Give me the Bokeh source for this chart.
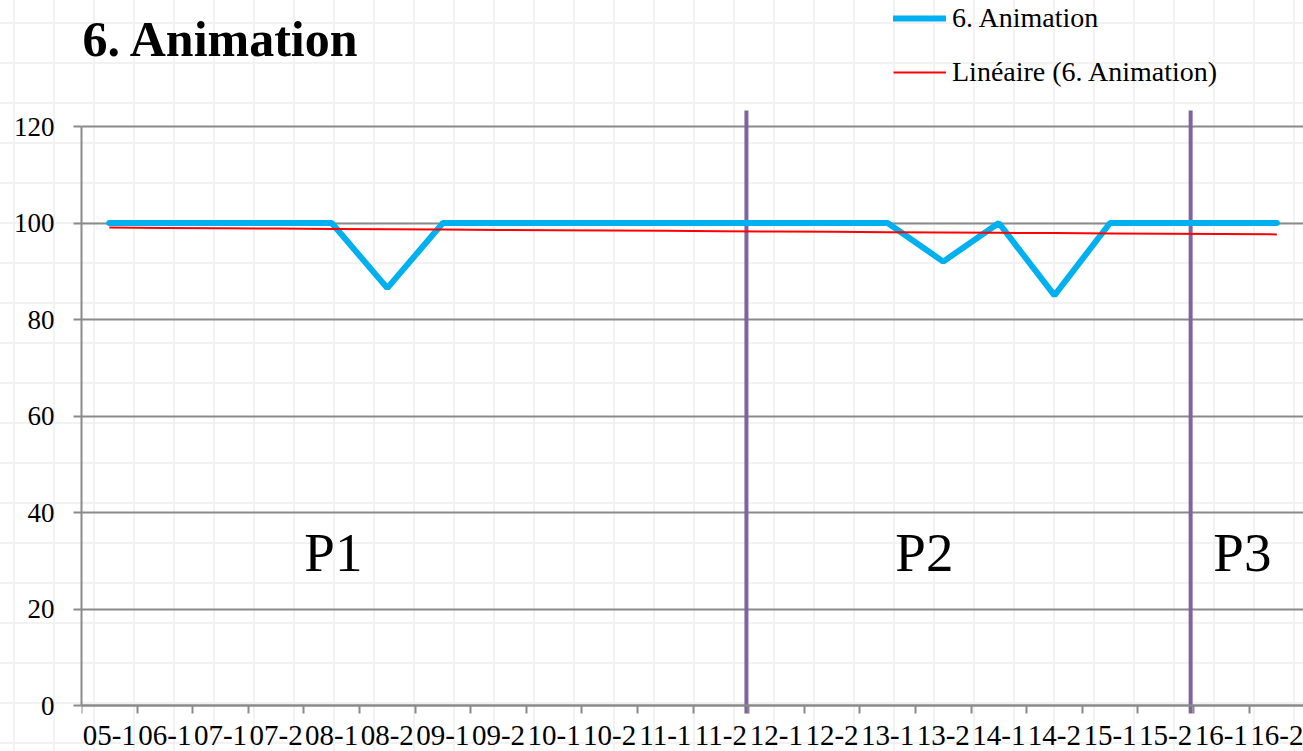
from bokeh.plotting import figure
from bokeh.models import (Range1d, FixedTicker, Legend, LegendItem, Label,
                          ColumnDataSource)
from bokeh.core.properties import value
from bokeh.embed import file_html
from bokeh.resources import INLINE
import numpy as np

# ---- data ----
categories = ["05-1", "06-1", "07-1", "07-2", "08-1", "08-2", "09-1", "09-2",
              "10-1", "10-2", "11-1", "11-2", "12-1", "12-2", "13-1", "13-2",
              "14-1", "14-2", "15-1", "15-2", "16-1", "16-2"]
animation = [100, 100, 100, 100, 100, 86.5, 100, 100, 100, 100, 100, 100,
             100, 100, 100, 92, 100, 85, 100, 100, 100, 100]
y_ticks = [0, 20, 40, 60, 80, 100, 120]
series_name = "6. Animation"
trend_name = "Linéaire (6. Animation)"
period_labels = ["P1", "P2", "P3"]
period_label_x = [4.03, 14.66, 20.38]
period_label_y = [31.8, 31.8, 31.8]
period_breaks = [11.46, 19.45]

FONT = "Liberation Serif"
GRAY = "#8a8a8a"

W, H = 1303, 751
LEFT = 81
Y0_PX, Y120_PX = 705, 126          # screen rows of 0 and 120
PX_PER_Y = (Y0_PX - Y120_PX) / 120
Y_TOP = Y0_PX / PX_PER_Y
Y_BOTTOM = -(H - Y0_PX) / PX_PER_Y
TICK = 8
SEP_TOP = 120 + 16 / PX_PER_Y

xs = np.arange(len(categories))
slope, intercept = np.polyfit(xs, np.array(animation, dtype=float), 1)
trend = slope * xs + intercept

p = figure(width=W, height=H, output_backend="svg", toolbar_location=None,
           x_range=Range1d(-0.5, 21.48), y_range=Range1d(Y_BOTTOM, Y_TOP),
           min_border_left=LEFT, min_border_right=0, min_border_top=0,
           min_border_bottom=0)

p.styles = {
    "background-image": "linear-gradient(to right, #f2f2f2 2px, transparent 2px),"
                        " linear-gradient(to bottom, #f2f2f2 2px, transparent 2px)",
    "background-size": "40px 40px",
    "background-position": "13px 22px",
}
p.border_fill_color = None
p.background_fill_color = None
p.outline_line_color = None

# grids
p.xgrid.grid_line_color = None
p.ygrid.grid_line_color = GRAY
p.ygrid.grid_line_width = 2

# y axis
p.yaxis.ticker = FixedTicker(ticks=y_ticks)
p.yaxis.bounds = (0, 120)
p.yaxis.axis_line_color = GRAY
p.yaxis.axis_line_width = 2
p.yaxis.major_tick_line_color = GRAY
p.yaxis.major_tick_line_width = 2
p.yaxis.major_tick_out = TICK
p.yaxis.major_tick_in = 0
p.yaxis.minor_tick_line_color = None
p.yaxis.major_label_standoff = 19
p.yaxis.major_label_text_font = FONT
p.yaxis.major_label_text_font_size = "27px"
p.yaxis.major_label_text_color = "black"

# x axis (fixed at y = 0)
p.xaxis.fixed_location = 0
p.xaxis.ticker = FixedTicker(ticks=list(range(len(categories))),
                             minor_ticks=[i - 0.5 for i in range(len(categories))])
p.xaxis.major_label_overrides = {i: c for i, c in enumerate(categories)}
p.xaxis.axis_line_color = GRAY
p.xaxis.axis_line_width = 2
p.xaxis.major_tick_line_color = None
p.xaxis.major_tick_out = 0
p.xaxis.major_tick_in = 0
p.xaxis.minor_tick_line_color = GRAY
p.xaxis.minor_tick_line_width = 2
p.xaxis.minor_tick_out = TICK
p.xaxis.minor_tick_in = 0
p.xaxis.major_label_standoff = 12
p.xaxis.major_label_text_font = FONT
p.xaxis.major_label_text_font_size = "29px"
p.xaxis.major_label_text_color = "black"

# period separators
p.segment(x0=period_breaks, x1=period_breaks,
          y0=[SEP_TOP] * len(period_breaks),
          y1=[-TICK / PX_PER_Y] * len(period_breaks),
          line_color="#8064A2", line_width=4)

src = ColumnDataSource(dict(x=xs, y=animation, t=trend))
blue = p.line("x", "y", source=src, line_color="#00B0F0", line_width=6,
              line_cap="round")
red = p.line("x", "t", source=src, line_color="#FF0000", line_width=2)

p.text(x=period_label_x, y=period_label_y, text=period_labels,
       text_font=value(FONT), text_font_size="55px", text_align="center",
       text_baseline="middle", text_color="black")

# title
p.add_layout(Label(x=1, y=H - 38.5, x_units="screen", y_units="screen",
                   text=series_name, text_font=FONT, text_font_size="50px",
                   text_font_style="bold", text_color="black",
                   text_baseline="middle", text_align="left"))

legend = Legend(items=[LegendItem(label=series_name, renderers=[blue]),
                       LegendItem(label=trend_name, renderers=[red])],
                location=(893 - LEFT, H - 88),
                orientation="vertical",
                glyph_width=53, glyph_height=32, label_height=32,
                label_standoff=6, spacing=22, padding=0, margin=0,
                border_line_color=None, background_fill_color=None,
                label_text_font=FONT, label_text_font_size="28px",
                label_text_color="black")
p.add_layout(legend, "center")

open("out.html", "w").write(file_html(p, INLINE))
